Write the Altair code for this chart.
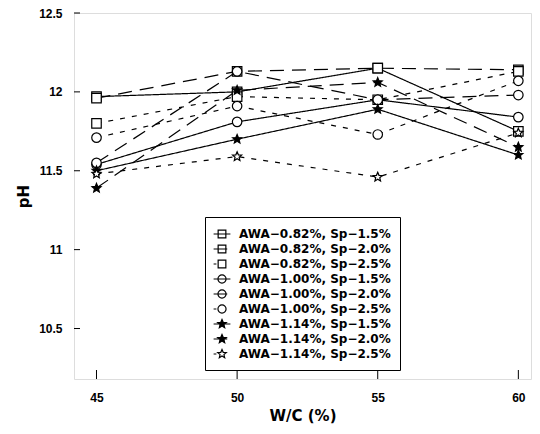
import altair as alt
import pandas as pd

# ---- data ----
wc = [45, 50, 55, 60]
series_names = [
    "AWA−0.82%, Sp−1.5%",
    "AWA−0.82%, Sp−2.0%",
    "AWA−0.82%, Sp−2.5%",
    "AWA−1.00%, Sp−1.5%",
    "AWA−1.00%, Sp−2.0%",
    "AWA−1.00%, Sp−2.5%",
    "AWA−1.14%, Sp−1.5%",
    "AWA−1.14%, Sp−2.0%",
    "AWA−1.14%, Sp−2.5%",
]
ph_082_15 = [11.97, 12.00, 12.15, 11.75]
ph_082_20 = [11.96, 12.13, 12.15, 12.14]
ph_082_25 = [11.80, 11.97, 11.95, 12.13]
ph_100_15 = [11.54, 11.81, 11.95, 11.84]
ph_100_20 = [11.55, 12.13, 11.95, 11.98]
ph_100_25 = [11.71, 11.91, 11.73, 12.07]
ph_114_15 = [11.50, 11.70, 11.89, 11.60]
ph_114_20 = [11.39, 12.01, 12.06, 11.65]
ph_114_25 = [11.48, 11.59, 11.46, 11.74]
y_ticks = [10.5, 11, 11.5, 12, 12.5]
x_ticks = [45, 50, 55, 60]

all_ph = [ph_082_15, ph_082_20, ph_082_25, ph_100_15, ph_100_20, ph_100_25,
          ph_114_15, ph_114_20, ph_114_25]

rows = []
for name, vals in zip(series_names, all_ph):
    for x, v in zip(wc, vals):
        rows.append({"series": name, "wc": x, "ph": v})
df = pd.DataFrame(rows)

# ---- styles ----
STAR = ("M0,-1L0.265,-0.364L0.951,-0.309L0.428,0.139L0.588,0.809L0,0.45"
        "L-0.588,0.809L-0.428,0.139L-0.951,-0.309L-0.265,-0.364Z")
SQ_M = "M-0.55,-0.55H0.55V0.55H-0.55Z"
CI_M = "M-0.58,0A0.58,0.58 0 1,0 0.58,0A0.58,0.58 0 1,0 -0.58,0Z"
ST_M = ("M0,-0.65L0.172,-0.237L0.618,-0.201L0.278,0.09L0.382,0.526L0,0.293"
        "L-0.382,0.526L-0.278,0.09L-0.618,-0.201L-0.172,-0.237Z")
L15 = "M-1.2,0H1.2"
L20 = "M-1.2,0H0.75"
L25 = "M-1.2,0H-0.8"

point_shapes = ["square"] * 3 + ["circle"] * 3 + [STAR] * 3
point_fills = ["white"] * 6 + ["black", "black", "white"]
legend_shapes = [
    L15 + SQ_M, L20 + SQ_M, L25 + SQ_M,
    L15 + CI_M, L20 + CI_M, L25 + CI_M,
    L15 + ST_M, L20 + ST_M, L25 + ST_M,
]
dashes = [[1, 0], [14, 8], [5, 7]] * 3

W, H = 457, 366
xscale = alt.Scale(domain=[44.2, 60.45], nice=False, zero=False)
yscale = alt.Scale(domain=[10.18, 12.5], nice=False, zero=False)

x_axis = alt.Axis(values=x_ticks, title="W/C (%)", ticks=False, tickSize=0,
                  labelPadding=13, grid=False, domain=False,
                  labelFont="Liberation Sans", labelFontWeight="bold", labelFontSize=12,
                  labelColor="black", titleFont="DejaVu Sans", titleFontSize=15,
                  titleFontWeight="bold", titleColor="black",
                  titleBaseline="middle", titleY=36)
y_axis = alt.Axis(values=y_ticks, title="pH", format="~g", ticks=False, tickSize=0,
                  labelPadding=12, grid=False, domain=False,
                  labelFont="Liberation Sans", labelFontWeight="bold", labelFontSize=12,
                  labelColor="black", titleFont="DejaVu Sans", titleFontSize=15,
                  titleFontWeight="bold", titleColor="black",
                  titleBaseline="middle", titleX=-51)

base = alt.Chart(df)

lines = base.mark_line(color="black", strokeWidth=1.2).encode(
    x=alt.X("wc:Q", scale=xscale, axis=x_axis),
    y=alt.Y("ph:Q", scale=yscale, axis=y_axis),
    strokeDash=alt.StrokeDash("series:N", scale=alt.Scale(domain=series_names, range=dashes),
                              legend=None),
    detail="series:N",
)

points = base.mark_point(filled=True, stroke="black", strokeWidth=1.2, size=90,
                         opacity=1).encode(
    x=alt.X("wc:Q", scale=xscale),
    y=alt.Y("ph:Q", scale=yscale),
    shape=alt.Shape("series:N", scale=alt.Scale(domain=series_names, range=point_shapes),
                    legend=None),
    fill=alt.Fill("series:N", scale=alt.Scale(domain=series_names, range=point_fills),
                  legend=None),
)

legend = alt.Legend(
    title=None, orient="none", legendX=131, legendY=204,
    strokeColor="black", fillColor="white", padding=9,
    labelFont="DejaVu Sans", labelFontWeight="bold", labelFontSize=12,
    labelColor="black", symbolSize=196, symbolStrokeColor="black",
    symbolStrokeWidth=1.2, symbolOpacity=1, rowPadding=0, labelOffset=9,
)

legend_layer = base.transform_filter("datum.ph > 100").mark_point(
    filled=True, strokeWidth=1.2, opacity=1).encode(
    x=alt.X("wc:Q", scale=xscale),
    y=alt.Y("ph:Q", scale=yscale),
    shape=alt.Shape("series:N", scale=alt.Scale(domain=series_names, range=legend_shapes),
                    legend=legend),
    fill=alt.Fill("series:N", scale=alt.Scale(domain=series_names, range=point_fills),
                  legend=legend),
    stroke=alt.Stroke("series:N", scale=alt.Scale(domain=series_names, range=["black"] * 9),
                      legend=legend),
)

ytick_layer = alt.Chart(pd.DataFrame({"ph": y_ticks})).mark_rule(
    color="black", strokeWidth=1).encode(
    y=alt.Y("ph:Q", scale=yscale),
    x=alt.value(0), x2=alt.value(6),
)
xtick_layer = alt.Chart(pd.DataFrame({"wc": x_ticks})).mark_rule(
    color="black", strokeWidth=1).encode(
    x=alt.X("wc:Q", scale=xscale),
    y=alt.value(H), y2=alt.value(H - 9),
)

chart = alt.layer(lines, points, ytick_layer, xtick_layer, legend_layer).resolve_scale(
    shape="independent", fill="independent", stroke="independent"
).properties(
    width=W, height=H,
    autosize=alt.AutoSizeParams(type="none"),
    padding={"left": 66, "top": 5, "right": 1, "bottom": 47},
).configure_view(stroke="black", strokeWidth=1.2).configure(background="white")

chart.save("out.html", embed_options={"renderer": "svg", "actions": False})
